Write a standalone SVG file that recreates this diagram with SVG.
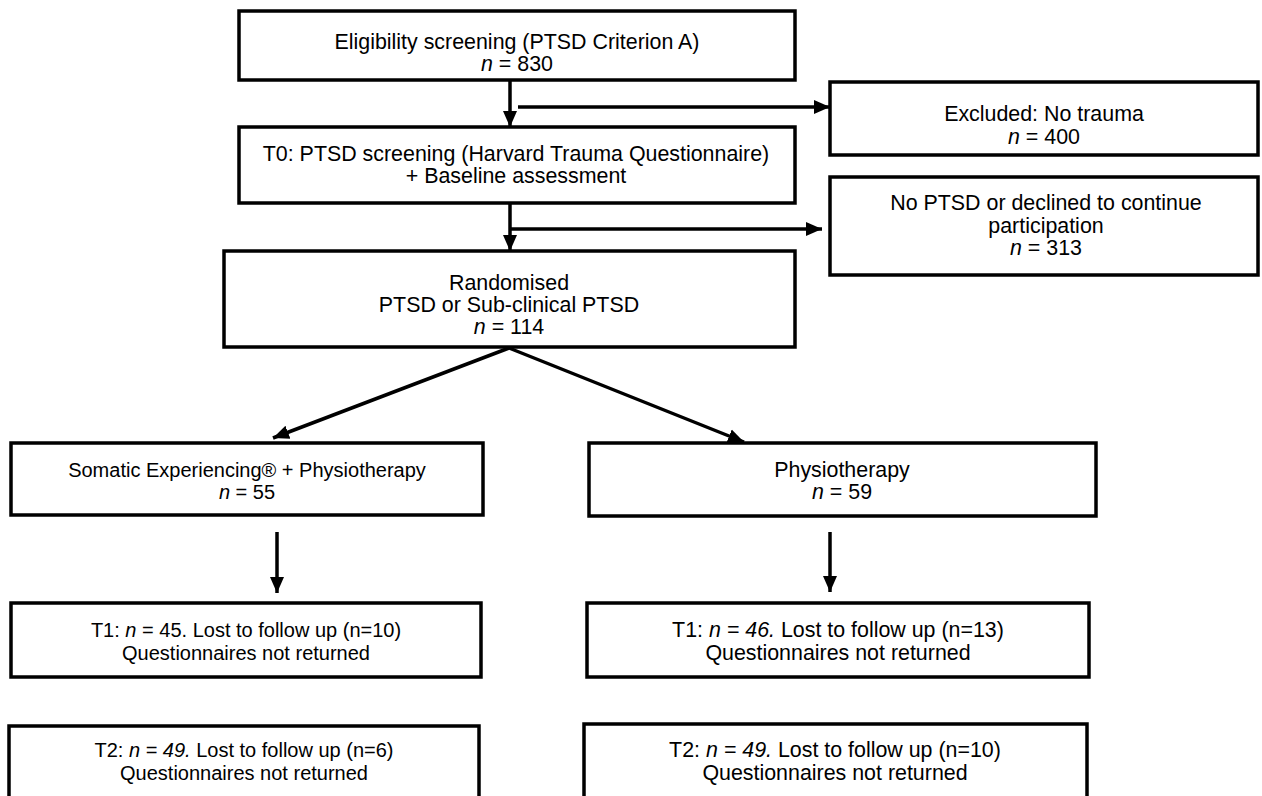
<svg xmlns="http://www.w3.org/2000/svg" width="1262" height="796" viewBox="0 0 1262 796">
<style>
.box{fill:#fff;stroke:#000;stroke-width:3.5}
.t{font-family:"Liberation Sans",Arial,sans-serif;font-size:21.4px;fill:#000;text-anchor:middle}
.s{font-size:20px}
.c{stroke:#000;stroke-width:3.5;fill:none}
</style>
<defs>
<marker id="ah" markerUnits="userSpaceOnUse" markerWidth="16" markerHeight="16" viewBox="0 0 16 16" refX="16" refY="8" orient="auto">
<path d="M0,1 L16,8 L0,15 z" fill="#000"/>
</marker>
</defs>
<rect width="1262" height="796" fill="#fff"/>
<g id="n1"><rect class="box" x="239" y="11" width="556" height="69"/>
<text class="t" x="517" y="49">Eligibility screening (PTSD Criterion A)</text>
<text class="t" x="517" y="71"><tspan font-style="italic">n</tspan> = 830</text></g>
<g id="n2"><rect class="box" x="830" y="82" width="428" height="73"/>
<text class="t" x="1044" y="121">Excluded: No trauma</text>
<text class="t" x="1044" y="144"><tspan font-style="italic">n</tspan> = 400</text></g>
<g id="n3"><rect class="box" x="239" y="127" width="556" height="76"/>
<text class="t" x="516" y="161">T0: PTSD screening (Harvard Trauma Questionnaire)</text>
<text class="t" x="516" y="183">+ Baseline assessment</text></g>
<g id="n4"><rect class="box" x="830" y="177" width="428" height="98"/>
<text class="t" x="1046" y="210">No PTSD or declined to continue</text>
<text class="t" x="1046" y="233">participation</text>
<text class="t" x="1046" y="255"><tspan font-style="italic">n</tspan> = 313</text></g>
<g id="n5"><rect class="box" x="224" y="251" width="571" height="96"/>
<text class="t" x="509" y="290">Randomised</text>
<text class="t" x="509" y="312">PTSD or Sub-clinical PTSD</text>
<text class="t" x="509" y="334"><tspan font-style="italic">n</tspan> = 114</text></g>
<g id="n6"><rect class="box" x="11" y="443" width="472" height="72"/>
<text class="t s" x="247" y="477">Somatic Experiencing® + Physiotherapy</text>
<text class="t s" x="247" y="499"><tspan font-style="italic">n</tspan> = 55</text></g>
<g id="n7"><rect class="box" x="589" y="443" width="507" height="73"/>
<text class="t" x="842" y="477">Physiotherapy</text>
<text class="t" x="842" y="499"><tspan font-style="italic">n</tspan> = 59</text></g>
<g id="n8"><rect class="box" x="11" y="603" width="470" height="74"/>
<text class="t s" x="246" y="637">T1: <tspan font-style="italic">n</tspan> = 45. Lost to follow up (n=10)</text>
<text class="t s" x="246" y="660">Questionnaires not returned</text></g>
<g id="n9"><rect class="box" x="587" y="603" width="502" height="74"/>
<text class="t" x="838" y="637">T1: <tspan font-style="italic">n = 46.</tspan> Lost to follow up (n=13)</text>
<text class="t" x="838" y="660">Questionnaires not returned</text></g>
<g id="n10"><rect class="box" x="9" y="726" width="470" height="80"/>
<text class="t s" x="244" y="757">T2: <tspan font-style="italic">n = 49.</tspan> Lost to follow up (n=6)</text>
<text class="t s" x="244" y="780">Questionnaires not returned</text></g>
<g id="n11"><rect class="box" x="584" y="724" width="503" height="82"/>
<text class="t" x="835" y="757">T2: <tspan font-style="italic">n = 49.</tspan> Lost to follow up (n=10)</text>
<text class="t" x="835" y="780">Questionnaires not returned</text></g>
<g id="connectors">
<line class="c" x1="510" y1="80" x2="510" y2="127" marker-end="url(#ah)"/>
<line class="c" x1="518" y1="107" x2="830" y2="107" marker-end="url(#ah)"/>
<line class="c" x1="510" y1="203" x2="510" y2="251" marker-end="url(#ah)"/>
<line class="c" x1="510" y1="229" x2="822" y2="229" marker-end="url(#ah)"/>
<line class="c" x1="509" y1="348" x2="273" y2="438" marker-end="url(#ah)"/>
<line class="c" x1="509" y1="348" x2="744" y2="442" marker-end="url(#ah)"/>
<line class="c" x1="277" y1="532" x2="277" y2="593" marker-end="url(#ah)"/>
<line class="c" x1="830" y1="532" x2="830" y2="592" marker-end="url(#ah)"/>
</g>
</svg>
